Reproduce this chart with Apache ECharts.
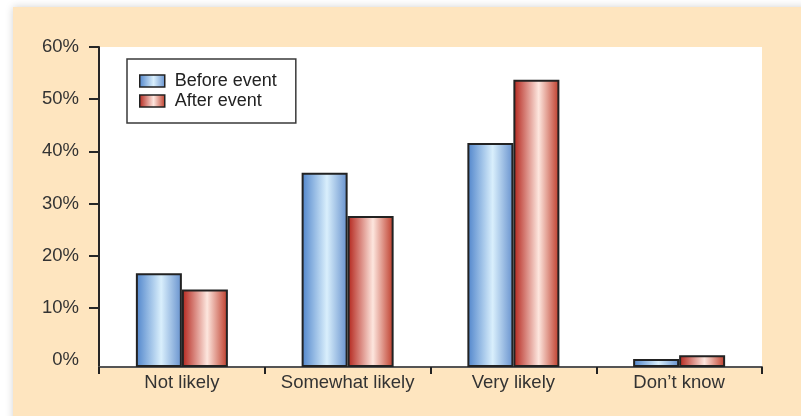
<!DOCTYPE html>
<html>
<head>
<meta charset="utf-8">
<script src="https://cdn.jsdelivr.net/npm/echarts@6/dist/echarts.min.js"></script>
<style>
  html, body { margin: 0; padding: 0; background: #ffffff; }
  #chart { width: 801px; height: 416px; }
</style>
</head>
<body>
<div id="chart"></div>
<script>
// Survey responses: likelihood, before and after the event (percent of respondents)
const categories = ['Not likely', 'Somewhat likely', 'Very likely', 'Don\u2019t know'];
const beforeEvent = [16.6, 35.9, 41.6, 0.2];
const afterEvent = [13.5, 27.6, 53.7, 0.9];
const yTickValues = [0, 10, 20, 30, 40, 50, 60];
const seriesNames = ['Before event', 'After event'];

const FONT = '"Liberation Sans", Arial, Helvetica, sans-serif';

// Cylinder-like horizontal shading for the bars
function shade(edgeL, mid, edgeR) {
  return new echarts.graphic.LinearGradient(0, 0, 1, 0, [
    { offset: 0, color: edgeL },
    { offset: 0.55, color: mid },
    { offset: 1, color: edgeR }
  ]);
}
const blueFill = shade('#4f84cb', '#d9effc', '#6590cd');
const redFill = shade('#b3231a', '#fde6de', '#bd3a28');

const chart = echarts.init(document.getElementById('chart'), null, { renderer: 'canvas' });

chart.setOption({
  backgroundColor: '#ffffff',
  animation: false,
  textStyle: { fontFamily: FONT },
  graphic: [{
    type: 'rect',
    z: -10,
    shape: { x: 13, y: 7, width: 800, height: 420 },
    style: { fill: '#fee5bf', shadowBlur: 8, shadowColor: 'rgba(0,0,0,0.18)' }
  }],
  grid: {
    left: 99, top: 47, right: 39, bottom: 49,
    containLabel: false,
    outerBoundsMode: 'none',
    show: true,
    backgroundColor: '#ffffff',
    borderWidth: 0
  },
  legend: {
    orient: 'vertical',
    left: 127,
    top: 59,
    backgroundColor: '#ffffff',
    borderColor: '#3a3a3a',
    borderWidth: 1.5,
    borderRadius: 0,
    padding: [13, 19, 13, 12],
    itemWidth: 25,
    itemHeight: 12,
    itemGap: 2,
    icon: 'rect',
    itemStyle: { borderWidth: 1.5, borderColor: '#222' },
    textStyle: { fontFamily: FONT, fontSize: 18, color: '#222', lineHeight: 18, padding: [0, 0, 0, 5] },
    data: seriesNames
  },
  xAxis: {
    type: 'category',
    data: categories,
    axisLine: { show: true, onZero: false, lineStyle: { color: '#555', width: 2 } },
    axisTick: { show: true, interval: 0, length: 7, alignWithLabel: false, lineStyle: { color: '#222', width: 2 } },
    axisLabel: { interval: 0, fontFamily: FONT, fontSize: 18.5, color: '#333', margin: 6 },
    splitLine: { show: false }
  },
  yAxis: {
    type: 'value',
    min: -1.35,
    max: 60,
    startValue: -1.35,
    axisLine: { show: true, lineStyle: { color: '#262626', width: 2 } },
    axisTick: { show: true, length: 10, customValues: yTickValues.slice(1), lineStyle: { color: '#262626', width: 2 } },
    axisLabel: {
      fontFamily: FONT, fontSize: 18.5, color: '#333', margin: 20,
      customValues: yTickValues,
      formatter: v => v + '%'
    },
    splitLine: { show: false }
  },
  series: [
    {
      name: seriesNames[0],
      type: 'bar',
      data: beforeEvent,
      barWidth: 46,
      barGap: '0%',
      itemStyle: { color: blueFill, borderColor: '#222', borderWidth: 2 }
    },
    {
      name: seriesNames[1],
      type: 'bar',
      data: afterEvent,
      barWidth: 46,
      barGap: '0%',
      itemStyle: { color: redFill, borderColor: '#222', borderWidth: 2 }
    }
  ]
});
</script>
</body>
</html>
